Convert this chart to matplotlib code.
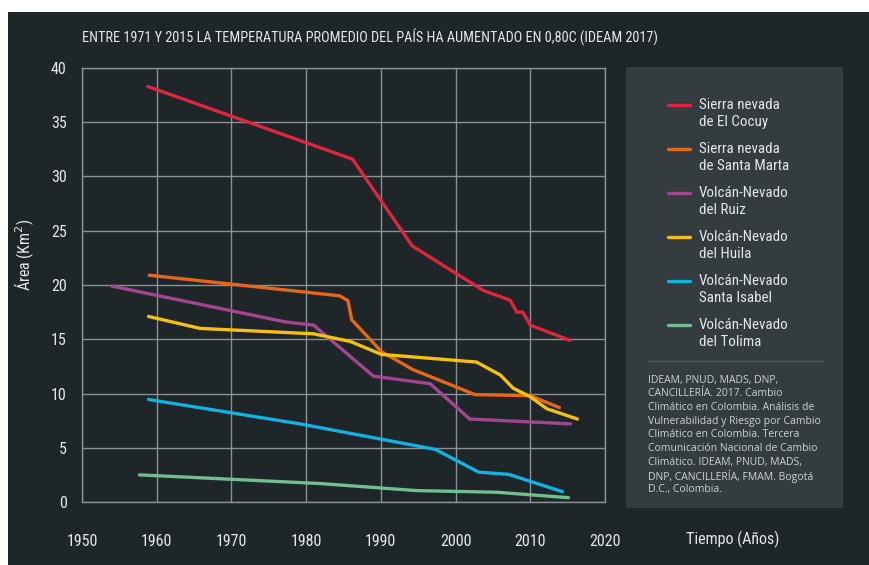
import matplotlib.pyplot as plt
from matplotlib.patches import Rectangle
from matplotlib.lines import Line2D

# Datos (año, área en km2)
cocuy_x = [1958.8, 1986.2, 1994.2, 2003.7, 2007.3, 2008.2, 2009.0, 2010.0, 2015.3]
cocuy_y = [38.3, 31.6, 23.6, 19.5, 18.6, 17.5, 17.5, 16.3, 14.9]

santa_marta_x = [1959.0, 1984.5, 1985.6, 1986.1, 1990.1, 1994.3, 2002.6, 2010.0, 2013.9]
santa_marta_y = [20.9, 19.0, 18.55, 16.8, 13.85, 12.2, 9.9, 9.8, 8.7]

ruiz_x = [1954.0, 1977.2, 1981.0, 1989.0, 1996.6, 2001.9, 2015.4]
ruiz_y = [19.9, 16.6, 16.3, 11.6, 10.9, 7.65, 7.2]

huila_x = [1958.9, 1965.8, 1981.0, 1985.9, 1990.1, 2002.8, 2006.0, 2007.7, 2010.0, 2012.2, 2016.3]
huila_y = [17.1, 16.0, 15.5, 14.8, 13.6, 12.9, 11.7, 10.5, 9.7, 8.6, 7.65]

isabel_x = [1958.9, 1979.2, 1997.3, 2003.1, 2007.1, 2014.3]
isabel_y = [9.45, 7.2, 4.85, 2.75, 2.55, 0.95]

tolima_x = [1957.7, 1981.9, 1994.8, 2005.5, 2015.1]
tolima_y = [2.5, 1.7, 1.05, 0.9, 0.4]

nombres = ["Sierra nevada\nde El Cocuy", "Sierra nevada\nde Santa Marta",
           "Volcán-Nevado\ndel Ruiz", "Volcán-Nevado\ndel Huila",
           "Volcán-Nevado\nSanta Isabel", "Volcán-Nevado\ndel Tolima"]
colores = ["#e0253f", "#e8661a", "#a4468f", "#f6c012", "#14b2e2", "#6fbf8f"]

x_ticks = [1950, 1960, 1970, 1980, 1990, 2000, 2010, 2020]
y_ticks = [0, 5, 10, 15, 20, 25, 30, 35, 40]

titulo = "ENTRE 1971 Y 2015 LA TEMPERATURA PROMEDIO DEL PAÍS HA AUMENTADO EN 0,80C (IDEAM 2017)"
fuente = ["IDEAM, PNUD, MADS, DNP,", "CANCILLERÍA. 2017. Cambio",
          "Climático en Colombia. Análisis de", "Vulnerabilidad y Riesgo por Cambio",
          "Climático en Colombia. Tercera", "Comunicación Nacional de Cambio",
          "Climático. IDEAM, PNUD, MADS,", "DNP, CANCILLERÍA, FMAM. Bogotá",
          "D.C., Colombia."]

fondo = "#1e262a"
panel = "#343c3f"
rejilla = "#8c9193"
texto = "#e6e8e8"

plt.rcParams['font.family'] = ['Roboto Condensed', 'DejaVu Sans']

W, H = 869, 565
fig = plt.figure(figsize=(W / 100, H / 100), dpi=100, facecolor="white")

# fondo oscuro de la infografía
fig.patches.append(Rectangle((8 / W, 0), (W - 8) / W, (H - 12) / H,
                             transform=fig.transFigure, facecolor=fondo,
                             edgecolor="none", zorder=-10))

ax = fig.add_axes([82 / W, 63 / H, 523 / W, 434 / H])
ax.set_facecolor(fondo)

series = [(cocuy_x, cocuy_y), (santa_marta_x, santa_marta_y), (ruiz_x, ruiz_y),
          (huila_x, huila_y), (isabel_x, isabel_y), (tolima_x, tolima_y)]
for (xs, ys), c in zip(series, colores):
    ax.plot(xs, ys, color=c, lw=2.4, solid_capstyle="round", solid_joinstyle="miter", zorder=3)

ax.set_xlim(1950, 2020)
ax.set_ylim(0, 40)
ax.set_xticks(x_ticks)
ax.set_yticks(y_ticks)
ax.grid(True, color=rejilla, lw=1)
ax.set_axisbelow(True)
for s in ax.spines.values():
    s.set_color(rejilla)
    s.set_linewidth(1)
ax.tick_params(length=0, colors=texto, labelsize=11.5)
ax.tick_params(axis="x", pad=23)
ax.tick_params(axis="y", pad=11)

ax.set_ylabel("Área (Km$^2$)", color=texto, fontsize=11.5)
ax.yaxis.set_label_coords(-0.088, 0.57)

fig.text(82 / W, 1 - 37 / H, titulo, color=texto, fontsize=10.3, va="center", ha="left")
fig.text(733 / W, 1 - 539 / H, "Tiempo (Años)", color=texto, fontsize=11.5, va="center", ha="center")

# panel de la leyenda
lg = fig.add_axes([626 / W, (H - 508) / H, 217 / W, 441 / H])
lg.set_facecolor(panel)
lg.set_xlim(0, 217)
lg.set_ylim(441, 0)
lg.set_xticks([])
lg.set_yticks([])
for s in lg.spines.values():
    s.set_visible(False)

for i, (nombre, c) in enumerate(zip(nombres, colores)):
    y0 = 38 + i * 44
    lg.add_line(Line2D([42, 64], [y0, y0], color=c, lw=2.4, solid_capstyle="round"))
    lg.text(73, y0 - 7, nombre, color=texto, fontsize=10.8, va="top", ha="left", linespacing=1.3)

lg.add_line(Line2D([22, 197], [294, 294], color="#50585b", lw=1))
for k, linea in enumerate(fuente):
    lg.text(22, 313 + k * 13.7, linea, color="#cfd2d3", fontsize=7.5, va="center", ha="left",
            family=["Open Sans", "DejaVu Sans"])

fig.savefig("out.png", dpi=100, facecolor=fig.get_facecolor())
